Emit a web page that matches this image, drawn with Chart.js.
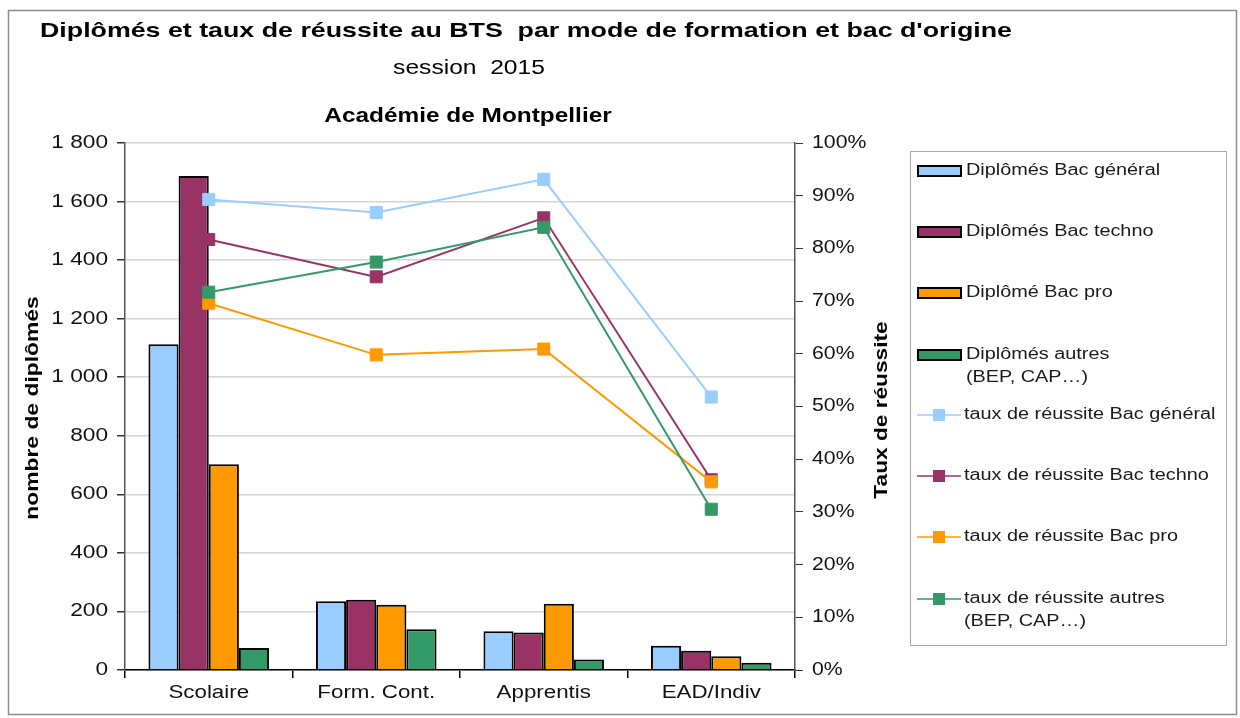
<!DOCTYPE html>
<html>
<head>
<meta charset="utf-8">
<script src="https://cdn.jsdelivr.net/npm/chart.js@4/dist/chart.umd.min.js"></script>
<style>
  html, body { margin: 0; padding: 0; background: #fff; }
  #wrap { position: relative; width: 1240px; height: 718px; }
</style>
</head>
<body>
<div id="wrap"><canvas id="bts" width="1240" height="718"></canvas></div>
<script>
// categories
const modes = ['Scolaire', 'Form. Cont.', 'Apprentis', 'EAD/Indiv'];

// nombre de diplômés (axe gauche)
const diplGeneral = [1113, 235, 132, 83];
const diplTechno  = [1687, 240, 128, 66];
const diplPro     = [703, 223, 226, 47];
const diplAutres  = [75, 139, 36, 25];

// taux de réussite en % (axe droit)
const tauxGeneral = [89.3, 86.8, 93.1, 51.8];
const tauxTechno  = [81.7, 74.6, 85.8, 36.1];
const tauxPro     = [69.6, 59.8, 60.9, 35.7];
const tauxAutres  = [71.7, 77.4, 84.0, 30.5];

const barLabels = ['Diplômés Bac général', 'Diplômés Bac techno', 'Diplômé Bac pro', ['Diplômés autres', '(BEP, CAP…)']];
const lineLabels = ['taux de réussite Bac général', 'taux de réussite Bac techno', 'taux de réussite Bac pro', ['taux de réussite autres', '(BEP, CAP…)']];
const colors = ['#99CCFF', '#993366', '#FF9900', '#339966'];

const FONT = '"Liberation Sans", Arial, sans-serif';
const WIDE = 1.25; // the source text is set wider than plain Arial

function barSet(label, data, color) {
  return {
    type: 'bar', label: label, data: data, yAxisID: 'y', order: 10,
    backgroundColor: color, borderColor: '#000', borderWidth: 2,
    categoryPercentage: 0.72, barPercentage: 1
  };
}

function lineSet(label, data, color, order) {
  return {
    type: 'line', label: label, data: data, yAxisID: 'y1', order: order,
    borderColor: color, backgroundColor: color, borderWidth: 2,
    pointStyle: 'rect', pointRadius: 8.5, pointBorderWidth: 1,
    pointBorderColor: color, pointBackgroundColor: color, tension: 0
  };
}

// text stretched along its own direction
function wideText(ctx, text, x, y, align, sx, rot) {
  ctx.save();
  ctx.translate(x, y);
  if (rot) ctx.rotate(rot);
  ctx.scale(sx, 1);
  ctx.textAlign = align;
  ctx.fillText(text, 0, 0);
  ctx.restore();
}

// titles, tick labels, axis titles, frame and legend
const decor = {
  id: 'decor',
  beforeDraw(chart) {
    const ctx = chart.ctx;
    ctx.save();
    ctx.fillStyle = '#fff';
    ctx.fillRect(0, 0, chart.width, chart.height);
    ctx.restore();
  },
  afterDraw(chart) {
    const ctx = chart.ctx;
    const sc = chart.scales;
    ctx.save();
    ctx.strokeStyle = '#8c8c8c';
    ctx.lineWidth = 1.5;
    ctx.strokeRect(8.5, 10.5, 1228, 704);

    ctx.fillStyle = '#000';
    ctx.textBaseline = 'middle';
    ctx.font = 'bold 21px ' + FONT;
    wideText(ctx, "Diplômés et taux de réussite au BTS  par mode de formation et bac d'origine", 40, 31, 'left', 1.275);
    ctx.font = '20px ' + FONT;
    wideText(ctx, 'session  2015', 469, 68, 'center', 1.23);
    ctx.font = 'bold 20px ' + FONT;
    wideText(ctx, 'Académie de Montpellier', 468, 116, 'center', 1.22);

    // tick labels
    ctx.font = '18px ' + FONT;
    ctx.fillStyle = '#111';
    sc.y.ticks.forEach((t, i) => {
      const v = t.value;
      const txt = v >= 1000 ? Math.floor(v / 1000) + ' ' + String(v % 1000).padStart(3, '0') : String(v);
      wideText(ctx, txt, 108, sc.y.getPixelForTick(i), 'right', 1.26);
    });
    sc.y1.ticks.forEach((t, i) => {
      wideText(ctx, t.value + '%', 812, sc.y1.getPixelForTick(i), 'left', 1.18);
    });
    modes.forEach((m, i) => {
      wideText(ctx, m, sc.x.getPixelForValue(i), 693, 'center', 1.24);
    });

    // axis titles
    ctx.fillStyle = '#000';
    ctx.font = 'bold 18px ' + FONT;
    wideText(ctx, 'nombre de diplômés', 33, 408, 'center', 1.27, -Math.PI / 2);
    wideText(ctx, 'Taux de réussite', 882, 410, 'center', 1.26, -Math.PI / 2);

    // legend
    ctx.strokeStyle = '#a6a6a6';
    ctx.lineWidth = 1;
    ctx.strokeRect(910.5, 151.5, 316, 494);
    ctx.font = '16px ' + FONT;
    const rows = [171, 232, 293, 355, 415, 476, 537, 599];
    for (let i = 0; i < 4; i++) {
      const y = rows[i];
      ctx.fillStyle = colors[i];
      ctx.fillRect(918, y - 5, 43, 10);
      ctx.strokeStyle = '#000';
      ctx.lineWidth = 2;
      ctx.strokeRect(918, y - 5, 43, 10);
      ctx.fillStyle = '#1a1a1a';
      [].concat(barLabels[i]).forEach((t, k) => wideText(ctx, t, 966, y + k * 23, 'left', 1.24));
    }
    for (let i = 0; i < 4; i++) {
      const y = rows[i + 4];
      ctx.strokeStyle = colors[i];
      ctx.lineWidth = 1.5;
      ctx.beginPath();
      ctx.moveTo(917, y);
      ctx.lineTo(961, y);
      ctx.stroke();
      ctx.fillStyle = colors[i];
      ctx.fillRect(933, y - 6, 12, 12);
      ctx.fillStyle = '#1a1a1a';
      [].concat(lineLabels[i]).forEach((t, k) => wideText(ctx, t, 964, y + k * 23, 'left', 1.24));
    }
    ctx.restore();
  }
};

const ctx = document.getElementById('bts').getContext('2d');
new Chart(ctx, {
  data: {
    labels: modes,
    datasets: [
      barSet(barLabels[0], diplGeneral, colors[0]),
      barSet(barLabels[1], diplTechno, colors[1]),
      barSet(barLabels[2], diplPro, colors[2]),
      barSet(barLabels[3], diplAutres, colors[3]),
      lineSet(lineLabels[0], tauxGeneral, colors[0], 4),
      lineSet(lineLabels[1], tauxTechno, colors[1], 3),
      lineSet(lineLabels[2], tauxPro, colors[2], 2),
      lineSet(lineLabels[3], tauxAutres, colors[3], 1)
    ]
  },
  options: {
    responsive: false,
    animation: false,
    events: [],
    layout: { padding: { top: 143, right: 330, left: 0, bottom: 0 } },
    plugins: { legend: { display: false }, tooltip: { enabled: false }, title: { display: false } },
    scales: {
      x: {
        offset: true,
        afterFit: (s) => { s.height = 48; },
        grid: { offset: true, drawOnChartArea: false, tickLength: 8, color: '#000', lineWidth: 1.5 },
        border: { color: '#000', width: 1.5 },
        ticks: { display: false }
      },
      y: {
        position: 'left', min: 0, max: 1800,
        afterFit: (s) => { s.width = 125; },
        grid: { color: '#d4d4d4', lineWidth: 1.5, tickLength: 8, tickColor: '#333' },
        border: { color: '#555', width: 1.5 },
        ticks: { display: false, stepSize: 200 }
      },
      y1: {
        position: 'right', min: 0, max: 100,
        afterFit: (s) => { s.width = 115; },
        grid: { drawOnChartArea: false, tickLength: 8, color: '#333' },
        border: { color: '#555', width: 1.5 },
        ticks: { display: false, stepSize: 10 }
      }
    }
  },
  plugins: [decor]
});
</script>
</body>
</html>
